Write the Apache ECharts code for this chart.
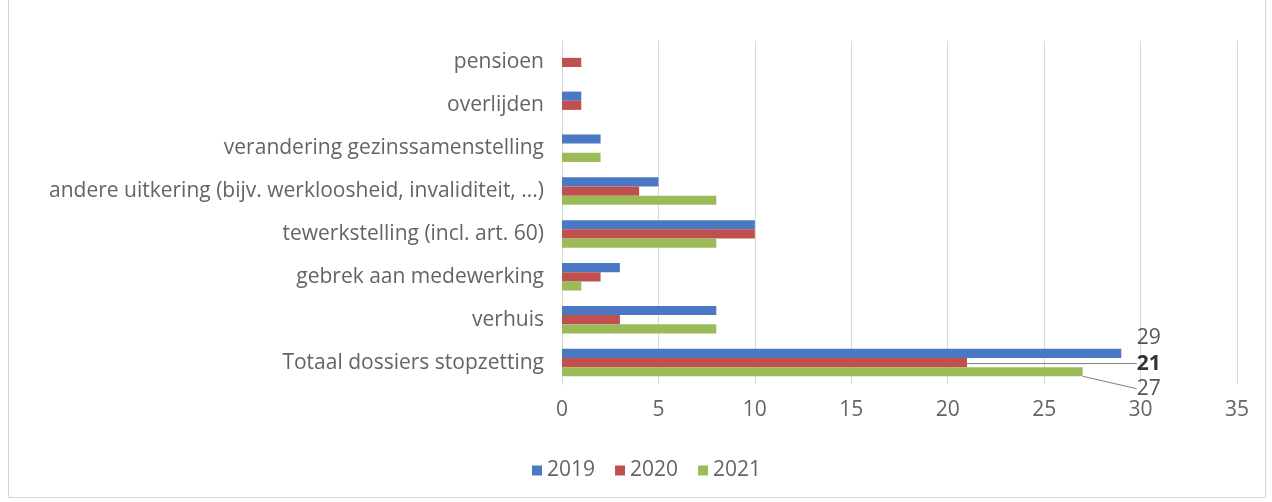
<!DOCTYPE html>
<html><head><meta charset="utf-8">
<script src="https://cdn.jsdelivr.net/npm/echarts@6/dist/echarts.min.js"></script>
<style>html,body{margin:0;padding:0;background:#fff}#c{width:1272px;height:502px}</style>
</head><body><div id="c"></div>
<script>
const categories = ['pensioen','overlijden','verandering gezinssamenstelling','andere uitkering (bijv. werkloosheid, invaliditeit, ...)','tewerkstelling (incl. art. 60)','gebrek aan medewerking','verhuis','Totaal dossiers stopzetting'];
const v2019 = [0,1,2,5,10,3,8,29];
const v2020 = [1,1,0,4,10,2,3,21];
const v2021 = [0,0,2,8,8,1,8,27];
const years = ['2019','2020','2021'];
const xTicks = [0,5,10,15,20,25,30,35];

const FONT = '"Open Sans"';
const FS = 21;
const TXT = '#646464';
const GL = 562, GR = 35, W = 1272;
const unit = (W - GL - GR) / 35;
const labelX = GL + 29.8 * unit;
const colors = ['#4a78c2','#c0504d','#9bbb59'];
const offs = [-15, 1, 17];
const bolds = ['normal','bold','normal'];
const totalIdx = categories.length - 1;

function mk(name, vals, i) {
  return {
    name: name, type: 'bar', barGap: '0%', barCategoryGap: '36%',
    itemStyle: {color: colors[i]},
    data: vals.map((v, k) => ({value: v, label: {show: k === totalIdx}})),
    label: {position: 'right', color: i === 1 ? '#333' : '#555', fontFamily: FONT, fontSize: FS, fontWeight: bolds[i], formatter: '{c}'},
    labelLine: {show: i > 0, lineStyle: {color: '#7f7f7f', width: 1}},
    labelLayout: function (p) {
      return {x: labelX, y: p.rect.y + p.rect.height / 2 + offs[i], align: 'left', verticalAlign: 'middle'};
    }
  };
}

const chart = echarts.init(document.getElementById('c'));
chart.setOption({
  animation: false,
  color: colors,
  textStyle: {fontFamily: FONT},
  graphic: [{type: 'rect', shape: {x: 8.5, y: -5, width: 1257, height: 502.5}, style: {fill: 'none', stroke: '#d6d6d6', lineWidth: 1}, silent: true}],
  grid: {left: GL, right: GR, top: 41, bottom: 118, containLabel: false},
  legend: {bottom: 16, left: 527, itemWidth: 10, itemHeight: 10, itemGap: 20, icon: 'rect',
    textStyle: {color: TXT, fontFamily: FONT, fontSize: FS}, data: years},
  xAxis: {type: 'value', min: 0, max: 35, interval: 5,
    axisLine: {show: false}, axisTick: {show: false},
    splitLine: {lineStyle: {color: '#d9d9d9', width: 1}},
    axisLabel: {color: TXT, fontFamily: FONT, fontSize: FS, margin: 16,
      formatter: v => xTicks.includes(v) ? String(v) : ''}},
  yAxis: {type: 'category', inverse: true, data: categories,
    axisLine: {show: true, lineStyle: {color: '#d9d9d9'}}, axisTick: {show: false},
    axisLabel: {color: TXT, fontFamily: FONT, fontSize: FS, margin: 18}},
  series: [mk(years[0], v2019, 0), mk(years[1], v2020, 1), mk(years[2], v2021, 2)]
});
</script></body></html>
